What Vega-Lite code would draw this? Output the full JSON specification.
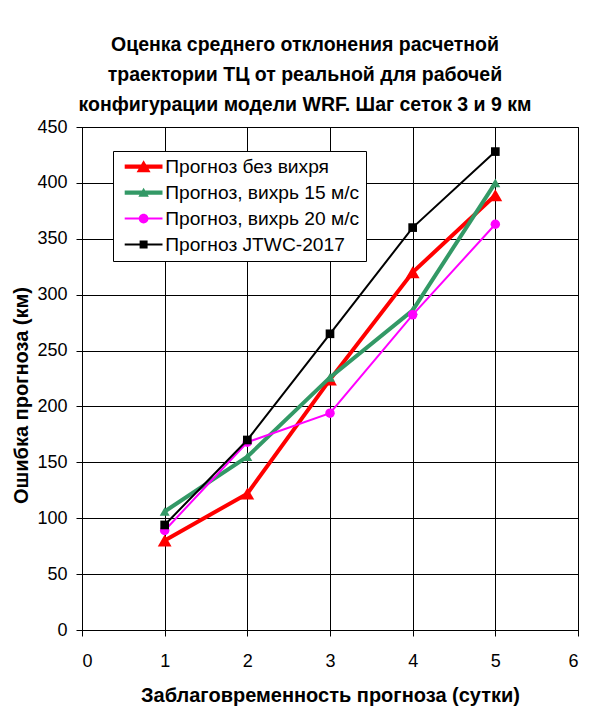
{
  "$schema": "https://vega.github.io/schema/vega-lite/v6.json",
  "autosize": "none",
  "width": 496,
  "height": 503,
  "padding": {"left": 82, "top": 127, "right": 30, "bottom": 84},
  "background": "white",
  "title": {
    "text": ["Оценка среднего отклонения расчетной", "траектории ТЦ от реальной для рабочей", "конфигурации модели WRF. Шаг сеток 3 и 9 км"],
    "font": "Liberation Sans",
    "fontSize": 19.5,
    "fontWeight": "bold",
    "lineHeight": 30,
    "anchor": "middle",
    "dx": -25,
    "offset": 3,
    "color": "black"
  },
  "data": {
    "values": [
      {"series": "Прогноз без вихря", "day": 1, "err": 80},
      {"series": "Прогноз без вихря", "day": 2, "err": 122},
      {"series": "Прогноз без вихря", "day": 3, "err": 224},
      {"series": "Прогноз без вихря", "day": 4, "err": 320},
      {"series": "Прогноз без вихря", "day": 5, "err": 389},
      {"series": "Прогноз, вихрь 15 м/с", "day": 1, "err": 106},
      {"series": "Прогноз, вихрь 15 м/с", "day": 2, "err": 155},
      {"series": "Прогноз, вихрь 15 м/с", "day": 3, "err": 226},
      {"series": "Прогноз, вихрь 15 м/с", "day": 4, "err": 286},
      {"series": "Прогноз, вихрь 15 м/с", "day": 5, "err": 400},
      {"series": "Прогноз, вихрь 20 м/с", "day": 1, "err": 89},
      {"series": "Прогноз, вихрь 20 м/с", "day": 2, "err": 168},
      {"series": "Прогноз, вихрь 20 м/с", "day": 3, "err": 194},
      {"series": "Прогноз, вихрь 20 м/с", "day": 4, "err": 282},
      {"series": "Прогноз, вихрь 20 м/с", "day": 5, "err": 363},
      {"series": "Прогноз JTWC-2017", "day": 1, "err": 94},
      {"series": "Прогноз JTWC-2017", "day": 2, "err": 170},
      {"series": "Прогноз JTWC-2017", "day": 3, "err": 265},
      {"series": "Прогноз JTWC-2017", "day": 4, "err": 360},
      {"series": "Прогноз JTWC-2017", "day": 5, "err": 428}
    ]
  },
  "encoding": {
    "x": {
      "field": "day",
      "type": "quantitative",
      "scale": {"domain": [0, 6], "nice": false, "zero": false},
      "axis": {
        "values": [0, 1, 2, 3, 4, 5, 6],
        "title": "Заблаговременность прогноза (сутки)",
        "labelPadding": 16,
        "titlePadding": 15
      }
    },
    "y": {
      "field": "err",
      "type": "quantitative",
      "scale": {"domain": [0, 450], "nice": false},
      "axis": {
        "values": [0, 50, 100, 150, 200, 250, 300, 350, 400, 450],
        "title": "Ошибка прогноза (км)",
        "labelPadding": 9,
        "titlePadding": 5,
        "titleY": 268
      }
    },
    "color": {
      "field": "series",
      "type": "nominal",
      "scale": {
        "domain": ["Прогноз без вихря", "Прогноз, вихрь 15 м/с", "Прогноз, вихрь 20 м/с", "Прогноз JTWC-2017"],
        "range": ["#ff0000", "#339966", "#ff00ff", "#000000"]
      },
      "legend": {
        "title": null,
        "orient": "none",
        "legendX": 31,
        "legendY": 24,
        "fillColor": "white",
        "strokeColor": "black",
        "padding": 6,
        "symbolSize": 196,
        "symbolOffset": 15,
        "labelOffset": 12,
        "rowPadding": 6,
        "labelFont": "Liberation Sans",
        "labelFontSize": 19.2,
        "labelColor": "black",
        "labelLimit": 400,
        "encode": {
          "symbols": {
            "update": {
              "shape": {"signal": "datum.index === 0 ? 'M-2.7,-0.29H2.7V0.29H-2.7Z M-1,0.8L0,-0.9L1,0.8Z' : datum.index === 1 ? 'M-2.7,-0.29H2.7V0.29H-2.7Z M-0.75,0.6L0,-0.7L0.75,0.6Z' : datum.index === 2 ? 'M-2.7,-0.14H2.7V0.14H-2.7Z M-0.7,0A0.7,0.7 0 1,1 0.7,0A0.7,0.7 0 1,1 -0.7,0Z' : 'M-2.7,-0.14H2.7V0.14H-2.7Z M-0.57,-0.57H0.57V0.57H-0.57Z'"},
              "fill": {"scale": "color", "field": "value"},
              "fillOpacity": {"value": 1},
              "strokeWidth": {"value": 0},
              "opacity": {"value": 1}
            }
          }
        }
      }
    }
  },
  "layer": [
    {
      "transform": [{"filter": "datum.series === 'Прогноз без вихря'"}],
      "mark": {"type": "line", "strokeWidth": 4, "point": {"shape": "triangle-up", "size": 190, "filled": true, "opacity": 1}}
    },
    {
      "transform": [{"filter": "datum.series === 'Прогноз, вихрь 15 м/с'"}],
      "mark": {"type": "line", "strokeWidth": 4, "point": {"shape": "triangle-up", "size": 100, "filled": true, "opacity": 1}}
    },
    {
      "transform": [{"filter": "datum.series === 'Прогноз, вихрь 20 м/с'"}],
      "mark": {"type": "line", "strokeWidth": 2, "point": {"shape": "circle", "size": 90, "filled": true, "opacity": 1}}
    },
    {
      "transform": [{"filter": "datum.series === 'Прогноз JTWC-2017'"}],
      "mark": {"type": "line", "strokeWidth": 2, "point": {"shape": "square", "size": 75, "filled": true, "opacity": 1}}
    }
  ],
  "config": {
    "view": {"stroke": "black", "strokeWidth": 1},
    "axis": {
      "domainColor": "black",
      "gridColor": "black",
      "gridOpacity": 1,
      "gridWidth": 1,
      "tickColor": "black",
      "tickSize": 6,
      "labelColor": "black",
      "titleColor": "black",
      "labelFont": "Liberation Sans",
      "labelFontSize": 18,
      "titleFont": "Liberation Sans",
      "titleFontSize": 20,
      "titleFontWeight": "bold"
    }
  }
}
